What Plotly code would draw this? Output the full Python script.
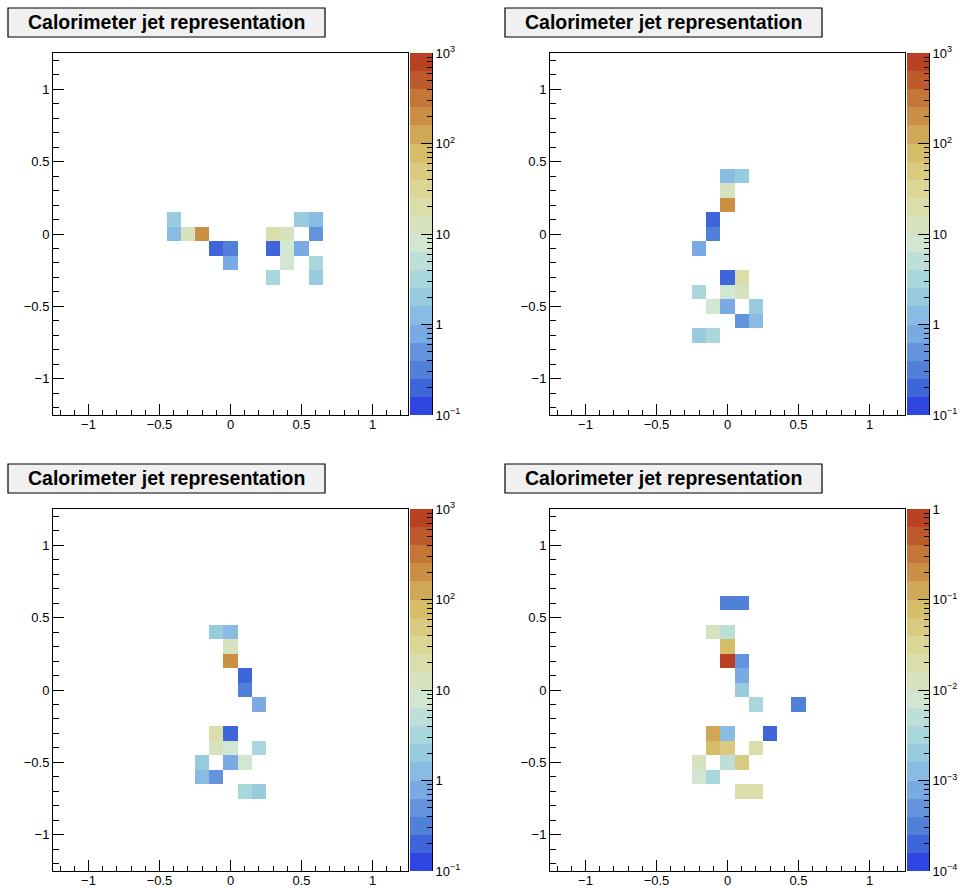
import math
import plotly.graph_objects as go

W, H = 962, 888

# ---------------- data (bin centres and cell contents) ----------------
p1_x = [-0.4, -0.4, -0.3, -0.2, -0.1, 0.0, 0.0, 0.3, 0.4, 0.6, 0.5, 0.6, 0.3, 0.4, 0.5, 0.4, 0.6, 0.3, 0.6]
p1_y = [0.1, 0.0, 0.0, 0.0, -0.1, -0.1, -0.2, 0.0, 0.0, 0.0, 0.1, 0.1, -0.1, -0.1, -0.1, -0.2, -0.2, -0.3, -0.3]
p1_v = [2.2, 1.3, 12, 210, 0.2, 0.3, 0.8, 20, 13, 0.5, 2.0, 1.2, 0.2, 8, 0.7, 7, 3.2, 3.5, 2.0]

p2_x = [0.0, 0.1, 0.0, 0.0, -0.1, -0.1, -0.2, 0.0, 0.1, -0.2, 0.0, 0.1, -0.1, 0.0, 0.2, 0.1, 0.2, -0.2, -0.1]
p2_y = [0.4, 0.4, 0.3, 0.2, 0.1, 0.0, -0.1, -0.3, -0.3, -0.4, -0.4, -0.4, -0.5, -0.5, -0.5, -0.6, -0.6, -0.7, -0.7]
p2_v = [1.4, 2.1, 12, 220, 0.2, 0.3, 0.8, 0.2, 20, 3.4, 8, 13, 7, 0.8, 2.0, 0.5, 1.3, 2.2, 3.3]

p3_x = [-0.1, 0.0, 0.0, 0.0, 0.1, 0.1, 0.2, -0.1, 0.0, -0.1, 0.0, 0.2, -0.2, 0.0, 0.1, -0.2, -0.1, 0.1, 0.2]
p3_y = [0.4, 0.4, 0.3, 0.2, 0.1, 0.0, -0.1, -0.3, -0.3, -0.4, -0.4, -0.4, -0.5, -0.5, -0.5, -0.6, -0.6, -0.7, -0.7]
p3_v = [2.1, 1.4, 12, 220, 0.2, 0.3, 0.8, 20, 0.2, 13, 8, 3.4, 2.0, 0.8, 7, 1.3, 0.5, 3.3, 2.2]

p4_x = [0.0, 0.1, -0.1, 0.0, 0.0, 0.0, 0.1, 0.1, 0.1, 0.2, 0.5, -0.1, 0.0, 0.3, -0.1, 0.0, 0.2,
        -0.2, 0.0, 0.1, -0.2, -0.1, 0.1, 0.2]
p4_y = [0.6, 0.6, 0.4, 0.4, 0.3, 0.2, 0.2, 0.1, 0.0, -0.1, -0.1, -0.3, -0.3, -0.3, -0.4, -0.4, -0.4,
        -0.5, -0.5, -0.5, -0.6, -0.6, -0.7, -0.7]
p4_v = [3.2e-4, 3.2e-4, 1.3e-2, 5e-3, 7.5e-2, 0.8, 5e-4, 8e-4, 2e-3, 3.2e-3, 3.2e-4, 0.13, 1.3e-3, 2e-4,
        8e-2, 5e-2, 2e-2, 1.3e-2, 5e-3, 5e-2, 8e-3, 3.3e-3, 2e-2, 2.2e-2]

panels_x = [p1_x, p2_x, p3_x, p4_x]
panels_y = [p1_y, p2_y, p3_y, p4_y]
panels_v = [p1_v, p2_v, p3_v, p4_v]

# colour-axis decades (log10 of min and max) per panel
z_lo = [-1, -1, -1, -4]
z_hi = [3, 3, 3, 0]
cbar_ticktext = [
    ["10<sup>\u22121</sup>", "1", "10", "10<sup>2</sup>", "10<sup>3</sup>"],
    ["10<sup>\u22121</sup>", "1", "10", "10<sup>2</sup>", "10<sup>3</sup>"],
    ["10<sup>\u22121</sup>", "1", "10", "10<sup>2</sup>", "10<sup>3</sup>"],
    ["10<sup>\u22124</sup>", "10<sup>\u22123</sup>", "10<sup>\u22122</sup>", "10<sup>\u22121</sup>", "1"],
]
axis_major = [-1, -0.5, 0, 0.5, 1]
title_text = "Calorimeter jet representation"

# ---------------- style ----------------
FONT = "Liberation Sans, Arial, Helvetica, sans-serif"
NB = 25
XMIN, XMAX = -1.25, 1.25
BW = (XMAX - XMIN) / NB
centres = [round(XMIN + BW * (i + 0.5), 2) for i in range(NB)]
NCONT = 20

# ROOT kLightTemperature palette
st = [0.0, 0.125, 0.25, 0.375, 0.5, 0.625, 0.75, 0.875, 1.0]
rr = [31, 71, 123, 160, 210, 222, 214, 199, 183]
gg = [40, 117, 171, 211, 231, 220, 190, 132, 65]
bb = [234, 214, 228, 222, 210, 160, 105, 60, 34]


def pal(f):
    for k in range(len(st) - 1):
        if f <= st[k + 1]:
            t = (f - st[k]) / (st[k + 1] - st[k])
            return (rr[k] + t * (rr[k + 1] - rr[k]),
                    gg[k] + t * (gg[k + 1] - gg[k]),
                    bb[k] + t * (bb[k + 1] - bb[k]))
    return (rr[-1], gg[-1], bb[-1])


band_cols = []
for i in range(NCONT):
    idx = int((i + 0.99) * 255 / NCONT)
    r, g, b = pal(min(idx, 254) / 254)
    band_cols.append("rgb(%d,%d,%d)" % (round(r), round(g), round(b)))
cscale = []
for i, c in enumerate(band_cols):
    cscale.append([i / NCONT, c])
    cscale.append([(i + 1) / NCONT, c])

fig = go.Figure()
COL_OFF = 497
ROW_OFF = 456

for k in range(4):
    c, r = k % 2, k // 2
    ox, oy = COL_OFF * c, ROW_OFF * r
    n = k + 1
    cn = k + 5
    lo, hi = z_lo[k], z_hi[k]

    z = [[None] * NB for _ in range(NB)]
    for x, y, v in zip(panels_x[k], panels_y[k], panels_v[k]):
        i = int(round((x - XMIN) / BW - 0.5))
        j = int(round((y - XMIN) / BW - 0.5))
        z[j][i] = math.log10(v)

    fig.add_trace(go.Heatmap(
        x=centres, y=centres, z=z, colorscale=cscale, zmin=lo, zmax=hi,
        showscale=False, hoverinfo="skip",
        xaxis="x" if n == 1 else "x%d" % n, yaxis="y" if n == 1 else "y%d" % n))

    # colour bar as a separate strip
    edges = [lo + (hi - lo) * i / NCONT for i in range(NCONT + 1)]
    cz = [[lo + (hi - lo) * (i + 0.5) / NCONT] for i in range(NCONT)]
    fig.add_trace(go.Heatmap(
        x=[0, 1], y=edges, z=cz, colorscale=cscale, zmin=lo, zmax=hi,
        showscale=False, hoverinfo="skip", xaxis="x%d" % cn, yaxis="y%d" % cn))

    xd = [(53 + ox) / W, (408 + ox) / W]
    yd = [1 - (415 + oy) / H, 1 - (53 + oy) / H]
    cd = [(410 + ox) / W, (432 + ox) / W]

    common = dict(showgrid=False, zeroline=False, showline=True, linecolor="black",
                  linewidth=1, mirror=True, ticks="inside", ticklen=11, tickwidth=1,
                  tickcolor="black", tickmode="array", tickvals=axis_major,
                  range=[XMIN, XMAX], fixedrange=True, automargin=False,
                  tickfont=dict(family=FONT, size=13, color="black"),
                  minor=dict(tickmode="array", tickvals=centres, ticks="inside",
                             ticklen=5.5, tickcolor="black", tickwidth=1))
    xname = "xaxis" if n == 1 else "xaxis%d" % n
    yname = "yaxis" if n == 1 else "yaxis%d" % n
    fig.layout[xname] = dict(domain=xd, anchor="y" if n == 1 else "y%d" % n,
                             ticklabelstandoff=-3, **common)
    fig.layout[yname] = dict(domain=yd, anchor="x" if n == 1 else "x%d" % n, **common)

    minors = []
    for d in range(lo, hi):
        for m in range(2, 10):
            minors.append(d + math.log10(m))
    fig.layout["xaxis%d" % cn] = dict(domain=cd, anchor="y%d" % cn, range=[0, 1],
                                      visible=False, fixedrange=True, automargin=False)
    fig.layout["yaxis%d" % cn] = dict(
        domain=yd, anchor="x%d" % cn, side="right", range=[lo, hi], automargin=False,
        showgrid=False, zeroline=False, showline=True, linecolor="black", linewidth=1,
        ticks="inside", ticklen=11, tickcolor="black", tickwidth=1,
        tickmode="array", tickvals=list(range(lo, hi + 1)), ticktext=cbar_ticktext[k],
        tickfont=dict(family=FONT, size=13, color="black"), fixedrange=True,
        minor=dict(tickmode="array", tickvals=minors, ticks="inside", ticklen=5.5,
                   tickcolor="black", tickwidth=1))

    # title box
    bx0, bx1 = 8 + ox, 325 + ox
    by0, by1 = 8 + oy, 37 + oy
    fig.add_shape(type="rect", xref="paper", yref="paper",
                  x0=bx0 / W, x1=bx1 / W, y0=1 - by1 / H, y1=1 - by0 / H,
                  fillcolor="#f0f0f0", line=dict(color="black", width=1.2), layer="above")
    fig.add_annotation(x=(bx0 + bx1) / 2 / W, y=1 - (by0 + by1) / 2 / H,
                       xref="paper", yref="paper", xanchor="center", yanchor="middle",
                       showarrow=False, text=title_text,
                       font=dict(family=FONT, size=19.5, color="black", weight="bold"))

fig.update_layout(width=W, height=H,
                  margin=dict(l=0, r=0, t=0, b=0, pad=0, autoexpand=False),
                  paper_bgcolor="white", plot_bgcolor="white", showlegend=False)
fig.write_html("out.html", config={"displayModeBar": False},
               post_script="document.body.style.margin='0';"
                           "document.body.style.overflow='hidden';")
